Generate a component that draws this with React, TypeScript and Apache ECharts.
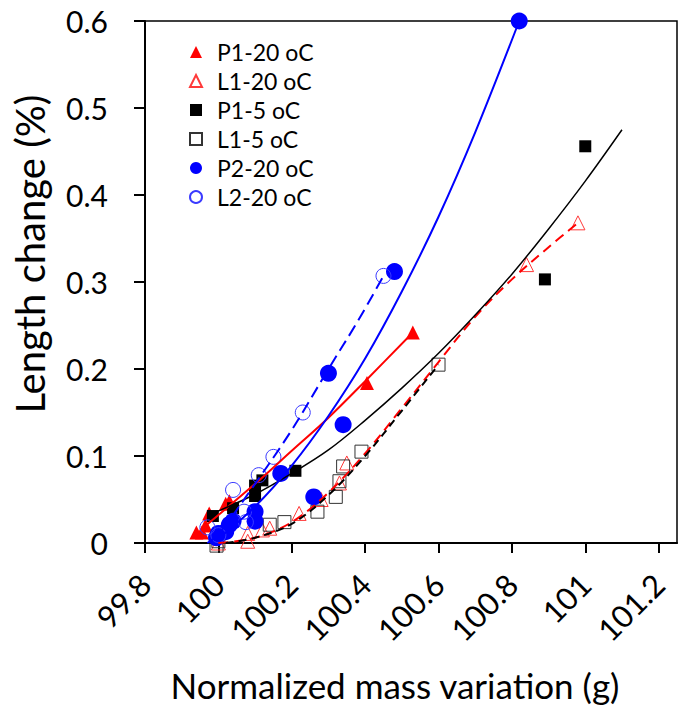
import React, { useEffect, useRef } from "react";
import * as echarts from "echarts";

// Markers (x = normalized mass, y = length change %)
const P1_20: number[][] = [[99.94,0.012],[99.955,0.012],[99.965,0.02],[99.975,0.034],[100.02,0.045],[100.03,0.048],[100.405,0.184],[100.53,0.242]];
const L1_20: number[][] = [[100.0,0.0],[100.08,0.002],[100.08,0.011],[100.12,0.015],[100.14,0.017],[100.22,0.034],[100.28,0.05],[100.33,0.069],[100.35,0.092],[100.84,0.32],[100.98,0.368]];
const P1_5: number[][] = [[99.985,0.031],[100.04,0.04],[100.1,0.054],[100.1,0.066],[100.12,0.072],[100.21,0.083],[100.89,0.303],[101.0,0.456]];
const L1_5: number[][] = [[99.995,-0.003],[100.0,0.002],[100.14,0.021],[100.18,0.024],[100.27,0.036],[100.32,0.053],[100.33,0.071],[100.34,0.088],[100.39,0.105],[100.6,0.205]];
const P2_20: number[][] = [[99.995,0.006],[100.0,0.011],[100.02,0.013],[100.03,0.021],[100.04,0.025],[100.1,0.025],[100.1,0.036],[100.17,0.08],[100.26,0.053],[100.3,0.195],[100.34,0.136],[100.48,0.312],[100.82,0.6]];
const L2_20: number[][] = [[99.97,0.018],[100.0,0.009],[100.04,0.061],[100.07,0.036],[100.075,0.024],[100.11,0.078],[100.15,0.099],[100.23,0.15],[100.45,0.307]];

// Trend curves
const fitP1_20: number[][] = [[99.96,0.018],[100.1,0.068],[100.2,0.106],[100.3,0.144],[100.4,0.186],[100.53,0.242]];
const fitL1_20: number[][] = [[100.0,0.0],[100.1,0.006],[100.2,0.024],[100.3,0.058],[100.4,0.103],[100.5,0.155],[100.6,0.208],[100.7,0.26],[100.8,0.303],[100.9,0.34],[100.98,0.368]];
const fitP1_5: number[][] = [[99.99,0.035],[100.1,0.056],[100.2,0.08],[100.3,0.107],[100.4,0.141],[100.5,0.178],[100.6,0.218],[100.7,0.262],[100.8,0.309],[100.9,0.361],[101.0,0.416],[101.1,0.475]];
const fitL1_5: number[][] = [[100.02,0.0],[100.1,0.006],[100.2,0.022],[100.3,0.055],[100.4,0.1],[100.5,0.152],[100.6,0.205]];
const fitP2_20: number[][] = [[100.0,0.005],[100.1,0.042],[100.2,0.089],[100.3,0.146],[100.4,0.212],[100.5,0.289],[100.6,0.375],[100.7,0.472],[100.82,0.6]];
const fitL2_20: number[][] = [[99.97,0.0],[100.0,0.01],[100.1,0.068],[100.2,0.13],[100.3,0.2],[100.38,0.255],[100.45,0.307]];

const legendNames = ["P1-20 oC", "L1-20 oC", "P1-5 oC", "L1-5 oC", "P2-20 oC", "L2-20 oC"];
const xTitle = "Normalized mass variation (g)";
const yTitle = "Length change (%)";

const FONT = "Lato, 'Open Sans', sans-serif";
const RED = "#ff0000";
const BLUE = "#0000ff";

export default function App() {
  const ref = useRef<HTMLDivElement>(null);
  useEffect(() => {
    if (!ref.current) return;
    const chart = echarts.init(ref.current, null, { renderer: "svg" });
    const lineS = (name: string, data: number[][], color: string, width: number, type: any) => ({
      name, type: "line", data, smooth: 0.35, showSymbol: false, symbol: "none", z: 5,
      lineStyle: { color, width, type }, silent: true,
    });
    const scat = (name: string, data: number[][], symbol: string, size: number, fill: string, border: string, bw: number) => ({
      name, type: "scatter", data, symbol, symbolSize: size, clip: false, z: 3,
      itemStyle: { color: fill, borderColor: border, borderWidth: bw, opacity: 1 },
    });
    chart.setOption({
      animation: false,
      backgroundColor: "#fff",
      grid: { left: 145, top: 21, right: 10, bottom: 166, show: true, borderColor: "#000", borderWidth: 1.5 },
      xAxis: {
        type: "value", min: 99.8, max: 101.25, interval: 0.2,
        axisLine: { show: true, lineStyle: { color: "#000", width: 2 } },
        axisTick: { show: true, length: 10, lineStyle: { color: "#000", width: 2 } },
        splitLine: { show: false },
        axisLabel: { rotate: 45, margin: 36, fontSize: 31, fontFamily: FONT, color: "#000", showMaxLabel: false,
          formatter: (v: number) => String(Math.round(v * 10) / 10) },
      },
      yAxis: {
        type: "value", min: 0, max: 0.6, interval: 0.1,
        axisLine: { show: true, lineStyle: { color: "#000", width: 2 } },
        axisTick: { show: true, length: 11, lineStyle: { color: "#000", width: 2 } },
        splitLine: { show: false },
        axisLabel: { margin: 37, fontSize: 30, fontFamily: FONT, color: "#000",
          formatter: (v: number) => String(Math.round(v * 10) / 10) },
      },
      legend: {
        data: legendNames, orient: "vertical", left: 184, top: 35,
        itemWidth: 12, itemHeight: 12, itemGap: 5,
        textStyle: { fontSize: 23, fontFamily: FONT, color: "#000", lineHeight: 24, padding: [0, 0, 0, 10] },
      },
      graphic: [
        { type: "text", x: 395, y: 685, style: { text: xTitle, font: `35px ${FONT}`, fill: "#000", textAlign: "center", textVerticalAlign: "middle" } },
        { type: "text", x: 30, y: 254, rotation: Math.PI / 2, style: { text: yTitle, font: `40px ${FONT}`, fill: "#000", textAlign: "center", textVerticalAlign: "middle" } },
      ],
      series: [
        scat("P1-20 oC", P1_20, "triangle", 14, RED, RED, 0),
        scat("L1-20 oC", L1_20, "triangle", 14, "rgba(255,255,255,0)", "#ff3a3a", 1),
        scat("P1-5 oC", P1_5, "rect", 12, "#000", "#000", 0),
        scat("L1-5 oC", L1_5, "rect", 13, "rgba(255,255,255,0)", "#333", 1),
        scat("P2-20 oC", P2_20, "circle", 17, BLUE, BLUE, 0),
        scat("L2-20 oC", L2_20, "circle", 15, "rgba(255,255,255,0)", "#3a3aff", 1),
        lineS("fit P1-20", fitP1_20, RED, 2, "solid"),
        lineS("fit L1-20", fitL1_20, RED, 2, [10, 6]),
        lineS("fit P1-5", fitP1_5, "#000", 1.5, "solid"),
        lineS("fit L1-5", fitL1_5, "#000", 2, [8, 5]),
        lineS("fit P2-20", fitP2_20, BLUE, 2, "solid"),
        lineS("fit L2-20", fitL2_20, BLUE, 2, [12, 6]),
      ],
    });
    return () => chart.dispose();
  }, []);
  return <div ref={ref} style={{ position: "fixed", left: 0, top: 0, width: 687, height: 709 }} />;
}
